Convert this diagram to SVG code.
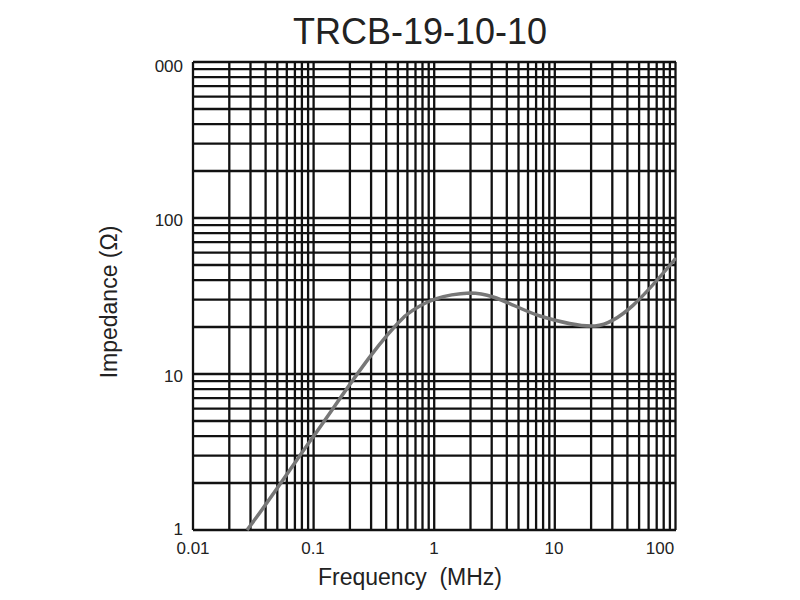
<svg xmlns="http://www.w3.org/2000/svg" width="800" height="600" viewBox="0 0 800 600">
<style>
.g line{stroke:#111;stroke-width:2.3}
text{font-family:"Liberation Sans",Arial,sans-serif;fill:#222}
.t{font-size:17px}
</style>
<rect width="800" height="600" fill="#fff"/>
<g class="g" id="grid">
<line x1="193" y1="62" x2="193" y2="530"/><line x1="229.3" y1="62" x2="229.3" y2="530"/><line x1="250.5" y1="62" x2="250.5" y2="530"/><line x1="265.6" y1="62" x2="265.6" y2="530"/><line x1="277.3" y1="62" x2="277.3" y2="530"/><line x1="286.8" y1="62" x2="286.8" y2="530"/><line x1="294.9" y1="62" x2="294.9" y2="530"/><line x1="301.9" y1="62" x2="301.9" y2="530"/><line x1="308.1" y1="62" x2="308.1" y2="530"/>
<line x1="313.6" y1="62" x2="313.6" y2="530"/><line x1="349.9" y1="62" x2="349.9" y2="530"/><line x1="371.1" y1="62" x2="371.1" y2="530"/><line x1="386.2" y1="62" x2="386.2" y2="530"/><line x1="397.9" y1="62" x2="397.9" y2="530"/><line x1="407.4" y1="62" x2="407.4" y2="530"/><line x1="415.5" y1="62" x2="415.5" y2="530"/><line x1="422.5" y1="62" x2="422.5" y2="530"/><line x1="428.7" y1="62" x2="428.7" y2="530"/>
<line x1="434.2" y1="62" x2="434.2" y2="530"/><line x1="470.5" y1="62" x2="470.5" y2="530"/><line x1="491.7" y1="62" x2="491.7" y2="530"/><line x1="506.8" y1="62" x2="506.8" y2="530"/><line x1="518.5" y1="62" x2="518.5" y2="530"/><line x1="528" y1="62" x2="528" y2="530"/><line x1="536.1" y1="62" x2="536.1" y2="530"/><line x1="543.1" y1="62" x2="543.1" y2="530"/><line x1="549.3" y1="62" x2="549.3" y2="530"/>
<line x1="554.8" y1="62" x2="554.8" y2="530"/><line x1="591.1" y1="62" x2="591.1" y2="530"/><line x1="612.3" y1="62" x2="612.3" y2="530"/><line x1="627.4" y1="62" x2="627.4" y2="530"/><line x1="639.1" y1="62" x2="639.1" y2="530"/><line x1="648.6" y1="62" x2="648.6" y2="530"/><line x1="656.7" y1="62" x2="656.7" y2="530"/><line x1="663.7" y1="62" x2="663.7" y2="530"/><line x1="669.9" y1="62" x2="669.9" y2="530"/><line x1="675.5" y1="62" x2="675.5" y2="530"/>
<line x1="193" y1="530" x2="676" y2="530"/><line x1="193" y1="483" x2="676" y2="483"/><line x1="193" y1="455.6" x2="676" y2="455.6"/><line x1="193" y1="436.1" x2="676" y2="436.1"/><line x1="193" y1="421" x2="676" y2="421"/><line x1="193" y1="408.6" x2="676" y2="408.6"/><line x1="193" y1="398.1" x2="676" y2="398.1"/><line x1="193" y1="389.1" x2="676" y2="389.1"/><line x1="193" y1="381.1" x2="676" y2="381.1"/>
<line x1="193" y1="374" x2="676" y2="374"/><line x1="193" y1="327" x2="676" y2="327"/><line x1="193" y1="299.6" x2="676" y2="299.6"/><line x1="193" y1="280.1" x2="676" y2="280.1"/><line x1="193" y1="265" x2="676" y2="265"/><line x1="193" y1="252.6" x2="676" y2="252.6"/><line x1="193" y1="242.1" x2="676" y2="242.1"/><line x1="193" y1="233.1" x2="676" y2="233.1"/><line x1="193" y1="225.1" x2="676" y2="225.1"/>
<line x1="193" y1="218" x2="676" y2="218"/><line x1="193" y1="171" x2="676" y2="171"/><line x1="193" y1="143.6" x2="676" y2="143.6"/><line x1="193" y1="124.1" x2="676" y2="124.1"/><line x1="193" y1="109" x2="676" y2="109"/><line x1="193" y1="96.6" x2="676" y2="96.6"/><line x1="193" y1="86.1" x2="676" y2="86.1"/><line x1="193" y1="77.1" x2="676" y2="77.1"/><line x1="193" y1="69.1" x2="676" y2="69.1"/><line x1="193" y1="62" x2="676" y2="62"/>
</g>
<path id="curve" d="M247,530 C270,500 295,462 313,437 C345,392 375,345 405,316 C425,300 445,294 470,293 C495,293 515,308 540,316 C560,322 580,327 595,326 C620,324 645,295 676,258" fill="none" stroke="#777" stroke-width="3.5"/>
<text x="420" y="44" font-size="36" text-anchor="middle" fill="#111">TRCB-19-10-10</text>
<g class="t" text-anchor="end">
<text x="183" y="72">000</text><text x="183" y="226">100</text><text x="183" y="382">10</text><text x="183" y="535">1</text>
</g>
<g class="t" text-anchor="middle">
<text x="193" y="554">0.01</text><text x="313" y="554">0.1</text><text x="434" y="554">1</text><text x="554" y="554">10</text><text x="660" y="554">100</text>
</g>
<text x="410" y="585" font-size="23" text-anchor="middle" xml:space="preserve">Frequency  (MHz)</text>
<text transform="translate(117,302) rotate(-90)" font-size="23" text-anchor="middle">Impedance (Ω)</text>
</svg>
